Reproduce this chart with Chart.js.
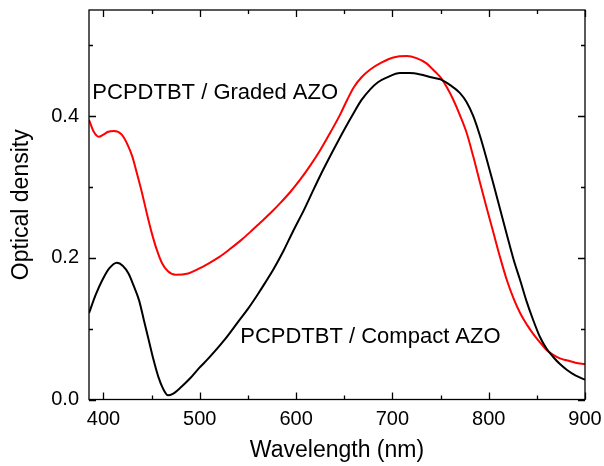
<!DOCTYPE html>
<html>
<head>
<meta charset="utf-8">
<script src="https://cdn.jsdelivr.net/npm/chart.js@4.4.0/dist/chart.umd.min.js"></script>
<style>
  html, body { margin: 0; padding: 0; background: #fff; }
  #wrap { width: 604px; height: 466px; }
</style>
</head>
<body>
<div id="wrap"><canvas id="myChart" width="604" height="466"></canvas></div>
<script>
// wavelength (nm) and optical density
var gradedX = [385, 390, 395, 400, 405, 411, 419, 425, 430, 435, 440, 445, 450, 455, 461, 467, 475, 488, 498, 509,
               520, 530, 542, 552, 563, 574, 584, 594, 604, 615, 625, 636, 646, 653, 660, 668, 677, 689, 701, 715,
               725, 735, 745, 750, 757, 763, 770, 777, 784, 791, 798, 805, 812, 819, 826, 833, 840, 846, 853, 860,
               867, 874, 882, 890, 900];
var gradedY = [0.395, 0.378, 0.371, 0.374, 0.378, 0.379, 0.374, 0.360, 0.343, 0.318, 0.292, 0.263, 0.236, 0.213, 0.192, 0.181, 0.176, 0.178, 0.184, 0.192,
               0.201, 0.211, 0.224, 0.236, 0.250, 0.264, 0.278, 0.293, 0.310, 0.331, 0.352, 0.378, 0.403, 0.423, 0.441, 0.455, 0.466, 0.476, 0.483, 0.485,
               0.482, 0.475, 0.462, 0.455, 0.440, 0.424, 0.402, 0.377, 0.343, 0.306, 0.270, 0.235, 0.200, 0.168, 0.142, 0.121, 0.105, 0.093, 0.081, 0.070,
               0.063, 0.058, 0.055, 0.052, 0.050];

var compactX = [385, 392, 399, 406, 414, 420, 426, 431, 437, 442, 447, 452, 457, 462, 467, 472, 481, 490, 499, 509,
                525, 540, 550, 560, 568, 577, 587, 597, 608, 618, 628, 639, 650, 660, 668, 677, 685, 694, 708, 718,
                729, 740, 750, 760, 770, 777, 784, 791, 798, 805, 812, 819, 826, 833, 839, 846, 853, 860, 867, 874,
                881, 890, 900];
var compactY = [0.122, 0.148, 0.169, 0.185, 0.193, 0.189, 0.178, 0.162, 0.140, 0.112, 0.084, 0.056, 0.032, 0.015, 0.006, 0.008, 0.018, 0.030, 0.044, 0.058,
                0.083, 0.110, 0.128, 0.148, 0.165, 0.185, 0.210, 0.238, 0.267, 0.296, 0.324, 0.353, 0.381, 0.405, 0.423, 0.438, 0.448, 0.4545, 0.461, 0.461,
                0.459, 0.455, 0.452, 0.444, 0.433, 0.420, 0.400, 0.372, 0.339, 0.304, 0.268, 0.232, 0.197, 0.167, 0.140, 0.113, 0.089, 0.072, 0.060, 0.050,
                0.042, 0.034, 0.028];

var xTicks = [400, 500, 600, 700, 800, 900];
var xMinor = [450, 550, 650, 750, 850];
var yTicks = [0.0, 0.2, 0.4];
var yMinor = [0.1, 0.3, 0.5];

function pts(xs, ys) {
    return xs.map(function (x, i) { return { x: x, y: ys[i] }; });
}

var FONT = "'Liberation Sans', Arial, sans-serif";

// frame, inward ticks on all sides, tick labels, curve labels
var framePlugin = {
    id: 'frame',
    afterDraw: function (chart) {
        var c = chart.ctx, a = chart.chartArea;
        var xs = chart.scales.x, ys = chart.scales.y;
        c.save();
        c.strokeStyle = '#000';
        c.lineWidth = 1.3;
        c.strokeRect(a.left, a.top, a.right - a.left, a.bottom - a.top);
        function xt(v, len) {
            var p = Math.round(xs.getPixelForValue(v)) + 0.5;
            c.beginPath();
            c.moveTo(p, a.bottom); c.lineTo(p, a.bottom - len);
            c.moveTo(p, a.top); c.lineTo(p, a.top + len);
            c.stroke();
        }
        function yt(v, len) {
            var p = Math.round(ys.getPixelForValue(v)) + 0.5;
            c.beginPath();
            c.moveTo(a.left, p); c.lineTo(a.left + len, p);
            c.moveTo(a.right, p); c.lineTo(a.right - len, p);
            c.stroke();
        }
        xTicks.forEach(function (v) { xt(v, 7); });
        xMinor.forEach(function (v) { xt(v, 4); });
        yTicks.forEach(function (v) { yt(v, 7); });
        yMinor.forEach(function (v) { yt(v, 4); });

        c.fillStyle = '#000';
        c.font = '20px ' + FONT;
        c.textBaseline = 'middle';
        c.textAlign = 'center';
        xTicks.forEach(function (v) {
            c.fillText(String(v), xs.getPixelForValue(v), a.bottom + 20);
        });
        c.textAlign = 'right';
        yTicks.forEach(function (v) {
            c.fillText(v.toFixed(1), a.left - 10, ys.getPixelForValue(v));
        });

        c.font = '22px ' + FONT;
        c.textAlign = 'left';
        c.fillText('PCPDTBT / Graded AZO', xs.getPixelForValue(388.5), ys.getPixelForValue(0.433));
        c.fillText('PCPDTBT / Compact AZO', xs.getPixelForValue(542), ys.getPixelForValue(0.089));
        c.restore();
    }
};

var ctx = document.getElementById('myChart').getContext('2d');
var myChart = new Chart(ctx, {
    type: 'line',
    data: {
        datasets: [{
            label: 'PCPDTBT / Compact AZO',
            data: pts(compactX, compactY),
            borderColor: '#000000',
            borderWidth: 2,
            pointRadius: 0,
            cubicInterpolationMode: 'monotone'
        }, {
            label: 'PCPDTBT / Graded AZO',
            data: pts(gradedX, gradedY),
            borderColor: '#ff0000',
            borderWidth: 2,
            pointRadius: 0,
            cubicInterpolationMode: 'monotone'
        }]
    },
    options: {
        responsive: false,
        animation: false,
        layout: { padding: { top: 10, right: 19, bottom: 0, left: 0 } },
        plugins: {
            legend: { display: false },
            tooltip: { enabled: false }
        },
        scales: {
            x: {
                type: 'linear',
                min: 385,
                max: 900,
                afterFit: function (s) { s.height = 66.5; },
                grid: { display: false, drawTicks: false },
                border: { display: false },
                ticks: { display: false },
                title: {
                    display: true,
                    text: 'Wavelength (nm)',
                    color: '#000',
                    padding: { top: 0, bottom: 2 },
                    font: { family: FONT, size: 23 }
                }
            },
            y: {
                min: 0,
                max: 0.55,
                afterFit: function (s) { s.width = 89; },
                grid: { display: false, drawTicks: false },
                border: { display: false },
                ticks: { display: false },
                title: {
                    display: true,
                    text: 'Optical density',
                    color: '#000',
                    padding: { top: 8, bottom: 0 },
                    font: { family: FONT, size: 23 }
                }
            }
        }
    },
    plugins: [framePlugin]
});
</script>
</body>
</html>
